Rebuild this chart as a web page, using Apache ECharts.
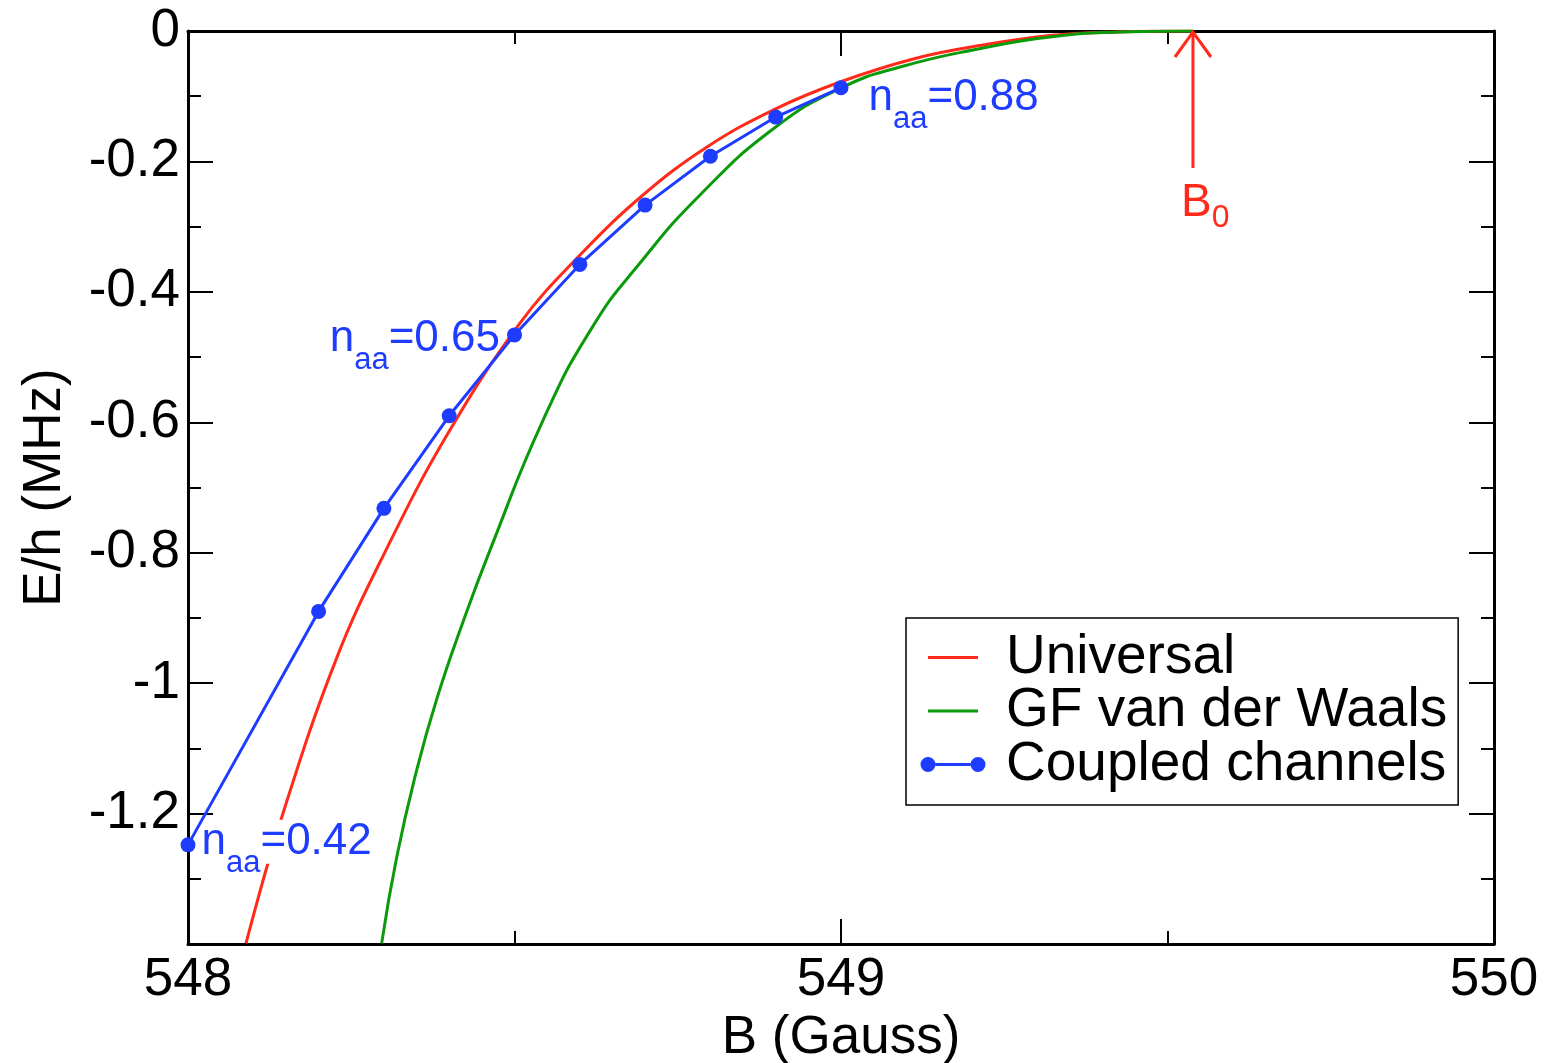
<!DOCTYPE html>
<html>
<head>
<meta charset="utf-8">
<script src="https://cdn.jsdelivr.net/npm/echarts@6/dist/echarts.min.js"></script>
<style>
html,body{margin:0;padding:0;background:#fff;}
#chart{width:1545px;height:1063px;}
</style>
</head>
<body>
<div id="chart"></div>
<script>
// ---------- data ----------
const universalB = [548.0888, 548.1455, 548.2282, 548.3047, 548.3966, 548.5084, 548.6003, 548.6968, 548.7948, 548.8959, 548.9985, 549.1164, 549.2175, 549.3201, 549.4227, 549.5391];
const universalE = [-1.399, -1.1994, -0.9601, -0.7929, -0.6196, -0.4479, -0.3436, -0.2515, -0.1779, -0.1212, -0.0782, -0.0414, -0.0215, -0.0069, -0.0015, 0];

const gfB = [548.2966, 548.3196, 548.3502, 548.3809, 548.4211, 548.4625, 548.5452, 548.6202, 548.6922, 548.7841, 548.8959, 548.9985, 549.0904, 549.2175, 549.3201, 549.4273, 549.5391];
const gfE = [-1.399, -1.2669, -1.1334, -1.0245, -0.9064, -0.7960, -0.5936, -0.4525, -0.3558, -0.2515, -0.1503, -0.0882, -0.0552, -0.0261, -0.0092, -0.0015, 0];

const ccB = [548.0, 548.2, 548.3, 548.4, 548.5, 548.6, 548.7, 548.8, 548.9, 549.0];
const ccE = [-1.248, -0.890, -0.732, -0.590, -0.466, -0.358, -0.267, -0.192, -0.132, -0.087];

// n_aa annotations: index into coupled-channel points, value text
const naaIndex = [0, 4, 9];
const naaText = ['0.42', '0.65', '0.88'];

// B0 arrow: [B0, tip energy, tail energy]
const b0Arrow = [549.539, 0, -0.21];

const xTicks = [548, 549, 550];
const yTicks = [0, -0.2, -0.4, -0.6, -0.8, -1, -1.2];

const seriesNames = ['Universal', 'GF van der Waals', 'Coupled channels'];

// ---------- styling ----------
const RED = '#ff2a1a', GREEN = '#0a9a0a', BLUE = '#1e3cff';
const FONT = '"Liberation Sans", Arial, Helvetica, sans-serif';

const chart = echarts.init(document.getElementById('chart'), null, {renderer: 'canvas'});

const zip = (a, b) => a.map((v, i) => [v, b[i]]);

const labelPos = ['right', 'left', 'right'];
const labelOffset = [[-2, -3], [3, 4], [12, 10]];
const ccData = ccB.map((b, i) => {
  const k = naaIndex.indexOf(i);
  if (k < 0) return [b, ccE[i]];
  const bg = k === 0 ? '#fff' : 'transparent';
  return {
    value: [b, ccE[i]],
    label: {
      show: true,
      position: labelPos[k],
      distance: k === 1 ? 10 : 8,
      offset: labelOffset[k],
      formatter: '{n|n}{s|aa}{v|=' + naaText[k] + '}',
      padding: 0,
      rich: {
        n: {fontSize: 44, fontFamily: FONT, color: BLUE, lineHeight: 50},
        s: {fontSize: 31, fontFamily: FONT, color: BLUE, padding: [44, 0, 0, 0], backgroundColor: bg},
        v: {fontSize: 44, fontFamily: FONT, color: BLUE, lineHeight: 80, backgroundColor: bg}
      }
    }
  };
});

const boxPad = (w, h) => `M0,0h0.01v0.01h-0.01Z M${w},${h}h-0.01v-0.01h0.01Z `;
const lineIcon = 'path://' + boxPad(83, 16) + 'M10,6.5h50v3h-50Z';
const dotLineIcon = 'path://' + boxPad(83, 16) +
  'M2.5,8A7.5,7.5 0 1 1 17.5,8A7.5,7.5 0 1 1 2.5,8Z ' +
  'M52.5,8A7.5,7.5 0 1 1 67.5,8A7.5,7.5 0 1 1 52.5,8Z ' +
  'M17.5,6.5h35v3h-35Z';

const axisLine = {show: true, onZero: false, lineStyle: {color: '#000', width: 3}};
const majorTick = (len) => ({show: true, inside: true, length: len, lineStyle: {color: '#000', width: 2}});
const minorTick = {show: true, splitNumber: 2, length: 13, lineStyle: {color: '#000', width: 2}};

const xFmt = v => (xTicks.indexOf(Math.round(v * 1000) / 1000) >= 0 ? String(Math.round(v)) : '');
const yFmt = v => {
  const r = Math.round(v * 10) / 10;
  return yTicks.indexOf(r) >= 0 ? String(r) : '';
};

const option = {
  animation: false,
  backgroundColor: '#fff',
  grid: {left: 188, right: 51, top: 31, bottom: 119, containLabel: false, outerBoundsMode: 'none'},
  legend: {
    orient: 'vertical',
    left: 906, top: 618,
    padding: [12, 11, 13, 12],
    itemGap: -1.5,
    itemWidth: 83, itemHeight: 16,
    borderColor: '#000', borderWidth: 1.5, backgroundColor: '#fff',
    itemStyle: {borderWidth: 0},
    textStyle: {fontSize: 55, fontFamily: FONT, color: '#000', lineHeight: 50, padding: [0, 0, 0, 0]},
    selectedMode: false,
    data: [
      {name: seriesNames[0], icon: lineIcon},
      {name: seriesNames[1], icon: lineIcon},
      {name: seriesNames[2], icon: dotLineIcon}
    ]
  },
  xAxis: [
    {
      type: 'value', position: 'bottom', min: 548, max: 550, interval: 1,
      name: 'B (Gauss)', nameLocation: 'middle', nameGap: 64,
      nameTextStyle: {fontSize: 53, fontFamily: FONT, color: '#000'},
      axisLine: axisLine, axisTick: majorTick(25), minorTick: minorTick,
      splitLine: {show: false},
      axisLabel: {fontSize: 53, fontFamily: FONT, color: '#000', margin: 10, formatter: xFmt}
    },
    {
      type: 'value', position: 'top', min: 548, max: 550, interval: 1,
      axisLine: axisLine, axisTick: majorTick(25), minorTick: minorTick,
      splitLine: {show: false}, axisLabel: {show: false}
    }
  ],
  yAxis: [
    {
      type: 'value', position: 'left', min: -1.4, max: 0, interval: 0.2,
      name: 'E/h (MHz)', nameLocation: 'middle', nameGap: 116, nameRotate: 90,
      nameTextStyle: {fontSize: 53, fontFamily: FONT, color: '#000'},
      axisLine: axisLine, axisTick: majorTick(25), minorTick: minorTick,
      splitLine: {show: false},
      axisLabel: {fontSize: 53, fontFamily: FONT, color: '#000', margin: 8, formatter: yFmt}
    },
    {
      type: 'value', position: 'right', min: -1.4, max: 0, interval: 0.2,
      axisLine: axisLine, axisTick: majorTick(25), minorTick: minorTick,
      splitLine: {show: false}, axisLabel: {show: false}
    }
  ],
  series: [
    {
      name: seriesNames[0], type: 'line', data: zip(universalB, universalE),
      showSymbol: false, symbol: 'none', smooth: 0.4,
      lineStyle: {color: RED, width: 3}, itemStyle: {color: RED}, z: 2
    },
    {
      name: seriesNames[1], type: 'line', data: zip(gfB, gfE),
      showSymbol: false, symbol: 'none', smooth: 0.5,
      lineStyle: {color: GREEN, width: 3}, itemStyle: {color: GREEN}, z: 2
    },
    {
      name: seriesNames[2], type: 'line', data: ccData,
      symbol: 'circle', symbolSize: 15, showAllSymbol: true,
      lineStyle: {color: BLUE, width: 3}, itemStyle: {color: BLUE, borderWidth: 0}, z: 3,
      clip: false
    },
    {
      name: 'B0', type: 'custom', data: [b0Arrow], z: 4, clip: false,
      renderItem: function (params, api) {
        const tip = api.coord([api.value(0), api.value(1)]);
        const tail = api.coord([api.value(0), api.value(2)]);
        return {
          type: 'group',
          children: [
            {type: 'line', shape: {x1: tail[0], y1: tail[1], x2: tip[0], y2: tip[1] + 1},
             style: {stroke: RED, lineWidth: 3}},
            {type: 'polyline', shape: {points: [[tip[0] - 18, tip[1] + 26], [tip[0], tip[1] + 1], [tip[0] + 18, tip[1] + 26]]},
             style: {stroke: RED, lineWidth: 3, fill: null}},
            {type: 'text', x: tip[0] - 12, y: tail[1] + 4,
             style: {
               text: '{b|B}{s|0}', align: 'left', verticalAlign: 'top',
               rich: {
                 b: {fontSize: 46, fontFamily: FONT, fill: RED, lineHeight: 50},
                 s: {fontSize: 32, fontFamily: FONT, fill: RED, padding: [30, 0, 0, 0]}
               }
             }}
          ]
        };
      }
    }
  ]
};

chart.setOption(option);
</script>
</body>
</html>
